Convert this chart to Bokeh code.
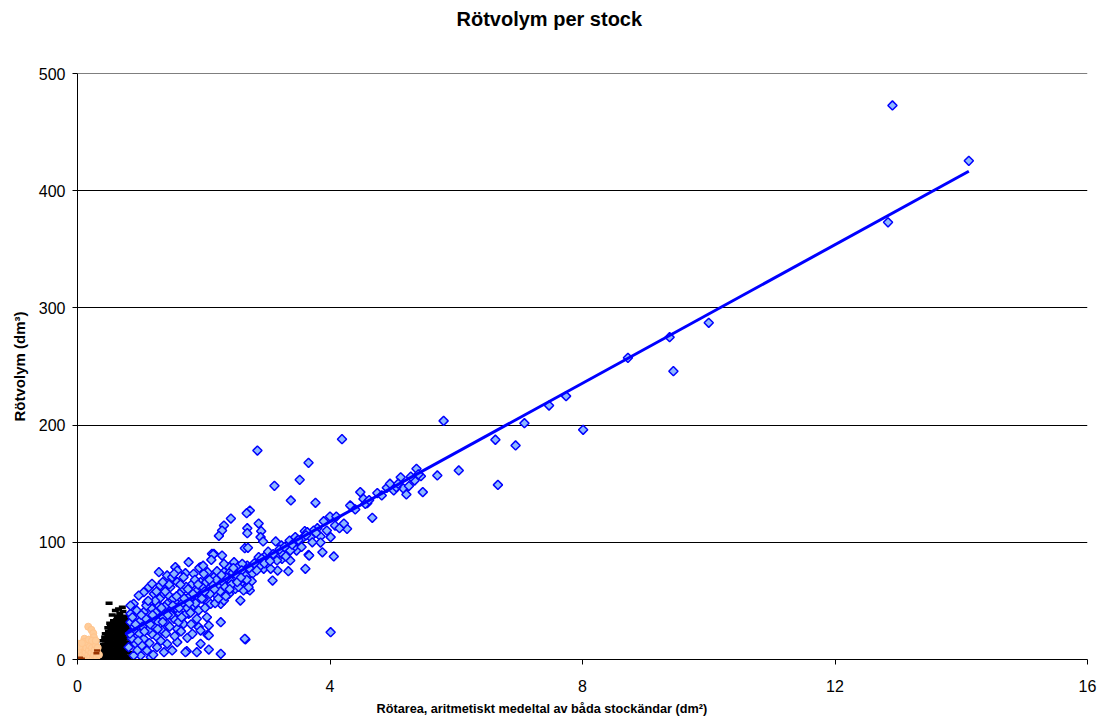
from bokeh.plotting import figure
from bokeh.models import Title, Range1d, FixedTicker, Span
from bokeh.embed import file_html
from bokeh.resources import INLINE

FONT = "Liberation Sans"

# ---- data ----
blue_x = [12.91, 14.12, 12.84, 10.0, 9.38, 9.44, 8.72, 8.01, 7.74, 7.47, 7.08, 6.94, 6.62, 6.66, 6.04, 5.80,
          5.70, 5.47, 5.37, 5.44, 5.34, 5.12, 5.16, 5.21, 5.01, 4.90, 5.05,
          4.19, 4.48, 4.53, 4.59, 4.34, 4.56, 4.32, 4.27, 4.67, 4.01,
          2.85, 3.66, 3.52, 3.12, 3.38, 3.77, 2.43, 2.73, 2.68, 2.87, 2.32, 2.29, 2.24, 2.69, 2.69, 2.91, 2.90,
          2.94, 2.65, 3.14, 3.23, 3.36, 3.45, 3.60, 3.69, 3.80, 3.85, 3.90, 4.00, 4.08, 4.01, 3.85, 3.47, 3.32,
          3.66, 3.88, 4.06, 2.16, 2.29,
          3.09, 3.61, 2.66, 2.27, 2.27, 2.08, 2.06, 1.73, 1.76, 1.95, 2.13, 1.55, 1.13, 1.05, 1.42,
          3.74, 3.64, 3.58, 3.67, 3.48, 3.43, 3.24, 3.37, 3.00, 2.95, 2.90, 2.77, 2.71, 2.69, 2.58, 2.48, 2.40,
          2.32, 2.16,
          3.34, 3.17, 3.06, 2.76, 2.73, 2.98, 2.87, 2.69, 3.24, 3.37, 3.16, 2.63, 2.58,
          2.70, 2.15, 2.12, 2.32, 2.48, 2.54, 2.61, 1.93, 2.06, 2.21, 2.40, 1.58, 1.71, 1.84, 1.50, 1.82, 1.95,
          2.08, 2.24, 2.42, 2.56, 2.66, 2.40, 2.27, 2.11, 2.00, 1.89, 1.31, 1.21, 1.37, 1.47, 1.66, 1.71, 1.55,
          1.42, 1.26, 1.10, 0.89, 0.94, 1.05, 1.18, 1.34, 1.47, 1.60, 1.76, 1.89, 1.92, 1.95, 2.08, 2.65, 1.71,
          1.74, 1.58, 1.58, 1.42, 1.42, 1.26, 1.26, 1.10, 1.00, 1.16, 0.89, 0.81, 0.92, 1.05, 1.18, 1.34, 0.89,
          0.84, 1.00, 1.21, 1.53, 1.68, 1.82, 1.50, 1.37, 1.89, 1.95, 0.84, 0.84, 0.97, 1.18, 1.29, 1.53, 1.58,
          1.68, 2.00, 2.37, 2.50, 2.63, 2.58, 2.32, 2.21, 2.71, 2.08,
          0.86, 0.90, 0.95, 0.98, 1.02, 1.03, 1.08, 1.12, 1.14, 1.20, 1.22, 1.24, 1.28, 1.30, 1.32, 1.36, 1.38,
          1.40, 1.44, 1.46, 1.48, 1.52, 1.54, 1.56, 1.60, 1.62, 1.64, 1.66, 1.70, 1.72, 1.74, 1.78, 1.80, 1.84,
          1.86, 1.88, 1.92, 1.96, 1.98, 2.02, 2.04, 2.10, 2.14, 2.18, 2.20, 2.26, 2.30, 2.34, 2.36, 2.44, 2.46,
          2.52, 2.55, 2.60, 2.68, 2.72, 2.80, 2.84, 2.92, 2.96, 3.02, 3.05, 3.10, 3.20, 3.28, 3.30, 3.40, 3.50,
          3.55, 3.62, 3.72, 3.78, 3.95, 4.10, 4.15, 4.22, 4.40, 4.62, 4.75, 4.82, 4.95, 5.08, 5.25, 5.28, 5.40,
          0.83, 0.87, 0.92, 0.96, 1.01, 1.06, 1.09, 1.15, 1.19, 1.23, 1.27, 1.33, 1.35, 1.39, 1.43, 1.45, 1.51,
          1.57, 1.61, 1.65, 1.69, 1.75, 1.79, 1.83, 1.87, 1.91, 1.97, 2.01, 2.05, 2.09, 2.17, 2.23, 2.28, 2.35,
          2.41, 2.47, 2.53, 2.59, 1.12, 1.25, 1.35, 1.63, 1.77, 1.99]
blue_y = [472.7, 425.5, 373.0, 287.3, 275.0, 246.0, 257.4, 196.0, 224.7, 216.7, 201.6, 182.6, 187.5, 149.0, 161.3, 203.6,
          157.0, 142.8, 162.7, 156.4, 152.7, 155.5, 146.0, 140.8, 144.2, 146.5, 147.0,
          188.0, 142.8, 137.0, 133.4, 130.5, 132.8, 131.4, 111.5, 120.9, 23.3,
          178.3, 167.8, 153.3, 148.2, 135.7, 133.7, 120.3, 127.1, 124.8, 116.0, 114.3, 110.0, 105.5, 112.0, 107.8, 109.5, 104.4,
          100.7, 95.0, 100.7, 97.3, 101.5, 104.4, 109.5, 104.4, 112.0, 105.0, 118.0, 122.0, 114.3, 104.4, 99.8, 93.0, 91.5,
          89.3, 91.5, 87.9, 90.2, 88.7,
          67.4, 77.4, 17.1, 4.8, 31.8, 8.5, 21.0, 7.1, 83.0, 78.8, 90.2, 78.8, 61.7, 57.4, 71.7,
          110.0, 108.6, 104.4, 88.7, 101.5, 95.8, 85.9, 84.5, 88.7, 77.4, 80.2, 73.1, 64.6, 60.3, 70.2, 67.4, 78.8,
          74.5, 70.2,
          75.3, 75.9, 77.4, 66.8, 58.9, 88.7, 87.3, 80.2, 90.2, 93.0, 84.5, 73.1, 64.8,
          95.3, 89.6, 85.0, 81.6, 83.0, 78.8, 81.6, 78.2, 74.5, 75.3, 73.6, 75.9, 73.6, 73.1, 70.2, 64.6, 66.0,
          61.7, 61.7, 67.4, 67.4, 71.7, 56.0, 47.5, 47.5, 51.8, 50.3, 63.1, 56.0, 56.0, 61.7, 58.9, 51.8, 48.9,
          47.5, 47.5, 48.9, 47.5, 41.8, 40.4, 43.3, 40.4, 41.8, 40.4, 39.0, 34.7, 27.6, 24.7, 20.5, 17.7, 6.2,
          18.5, 14.8, 26.2, 30.4, 13.4, 10.5, 19.0, 7.7, 3.4, 2.0, 3.4, 10.5, 13.4, 17.7, 21.9, 24.7, 24.7,
          31.8, 33.3, 33.3, 34.7, 30.4, 21.9, 7.7, 6.2, 6.2, 13.4, 39.0, 46.0, 54.6, 64.6, 74.5, 73.1, 66.0,
          70.2, 73.1, 58.9, 60.3, 58.9, 50.3, 50.3, 54.6, 61.7, 29.0,
          18.0, 28.0, 8.0, 22.0, 12.0, 28.0, 35.0, 25.0, 14.0, 4.0, 28.0, 40.0, 32.0, 52.0, 16.0, 36.0, 45.0,
          22.0, 55.0, 28.0, 38.0, 52.0, 20.0, 44.0, 32.0, 56.0, 24.0, 48.0, 38.0, 62.0, 44.0, 54.0, 30.0, 46.0,
          68.0, 58.0, 42.0, 56.0, 62.0, 44.0, 66.0, 56.0, 64.0, 48.0, 68.0, 58.0, 66.0, 62.0, 70.0, 64.0, 74.0,
          72.0, 62.0, 76.0, 68.0, 78.0, 82.0, 76.0, 86.0, 82.0, 92.0, 84.0, 90.0, 94.0, 96.0, 88.0, 98.0, 102.0,
          96.0, 106.0, 100.0, 108.0, 110.0, 122.0, 112.0, 116.0, 128.0, 136.0, 142.0, 140.0, 150.0, 150.0, 148.0, 156.0, 158.0,
          22.0, 36.0, 30.0, 16.0, 38.0, 24.0, 46.0, 30.0, 38.0, 50.0, 26.0, 44.0, 32.0, 58.0, 38.0, 64.0, 46.0,
          54.0, 44.0, 36.0, 52.0, 60.0, 40.0, 56.0, 48.0, 64.0, 52.0, 58.0, 36.0, 68.0, 60.0, 52.0, 72.0, 54.0,
          60.0, 78.0, 66.0, 70.0, 50.0, 58.0, 66.0, 64.0, 48.0, 80.0]

black_x = [0.36, 0.35, 0.37,
           0.40, 0.41, 0.39, 0.40, 0.41, 0.40,
           0.44, 0.45, 0.43, 0.44, 0.45, 0.44, 0.43, 0.44,
           0.48, 0.49, 0.47, 0.48, 0.49, 0.48, 0.47, 0.48, 0.49, 0.48,
           0.52, 0.53, 0.51, 0.52, 0.53, 0.52, 0.51, 0.52, 0.53, 0.52, 0.51,
           0.57, 0.58, 0.56, 0.57, 0.58, 0.57, 0.56, 0.57, 0.58, 0.57, 0.56, 0.57,
           0.62, 0.63, 0.61, 0.62, 0.63, 0.62, 0.61, 0.62, 0.63, 0.62, 0.61, 0.62, 0.63,
           0.67, 0.68, 0.66, 0.67, 0.68, 0.67, 0.66, 0.67, 0.68, 0.67, 0.66, 0.67, 0.68, 0.67,
           0.72, 0.73, 0.71, 0.72, 0.73, 0.72, 0.71, 0.72, 0.73, 0.72, 0.71, 0.72, 0.73, 0.72,
           0.77, 0.78, 0.76, 0.77, 0.78, 0.77, 0.76, 0.77, 0.78, 0.77, 0.76, 0.77, 0.78,
           0.81, 0.82, 0.81, 0.80, 0.81, 0.82, 0.81, 0.80,
           0.50, 0.60, 0.71, 0.55, 0.65]
black_y = [1.0, 4.0, 7.0,
           0.5, 3.5, 6.5, 9.5, 12.5, 16.0,
           1.0, 4.0, 7.0, 10.0, 13.0, 16.0, 19.0, 22.0,
           0.0, 3.0, 6.0, 9.0, 12.0, 15.0, 18.0, 21.0, 24.0, 27.0,
           1.0, 4.0, 7.0, 10.0, 13.0, 16.0, 19.0, 22.0, 25.0, 28.0, 31.0,
           0.0, 3.0, 6.0, 9.0, 12.0, 15.0, 18.0, 21.0, 24.0, 27.0, 30.0, 33.0,
           1.0, 4.0, 7.0, 10.0, 13.0, 16.0, 19.0, 22.0, 25.0, 28.0, 31.0, 34.0, 37.0,
           0.0, 3.0, 6.0, 9.0, 12.0, 15.0, 18.0, 21.0, 24.0, 27.0, 30.0, 33.0, 36.0, 39.0,
           1.0, 4.0, 7.0, 10.0, 13.0, 16.0, 19.0, 22.0, 25.0, 28.0, 31.0, 34.0, 37.0, 41.0,
           0.0, 3.0, 6.0, 9.0, 12.0, 15.0, 18.0, 21.0, 24.0, 27.0, 30.0, 33.0, 36.0,
           2.0, 6.0, 10.0, 14.0, 18.0, 22.0, 26.0, 30.0,
           48.0, 41.8, 44.6, 38.0, 43.0]

orange_x = [0.17, 0.22, 0.25, 0.11, 0.02, 0.15, 0.26, 0.10, 0.21,
            0.02, 0.04, 0.06, 0.05, 0.08, 0.09, 0.10, 0.11, 0.13, 0.14, 0.15, 0.17, 0.18, 0.19, 0.20,
            0.22, 0.23, 0.24, 0.26, 0.27, 0.28, 0.30, 0.31, 0.32, 0.12, 0.18, 0.23, 0.01, 0.03, 0.07, 0.34, 0.29]
orange_y = [28.0, 25.3, 22.4, 17.7, 13.4, 14.8, 19.0, 14.8, 13.4,
            2.0, 6.0, 10.0, 1.0, 4.0, 8.0, 11.0, 2.0, 6.0, 10.0, 1.0, 4.0, 8.0, 12.0, 2.0,
            6.0, 10.0, 1.0, 4.0, 8.0, 13.0, 2.0, 6.0, 10.0, 15.0, 17.0, 16.0, 8.0, 11.0, 14.0, 4.0, 16.0]

brown_x = [0.31, 0.04, 0.07, 0.30]
brown_y = [7.7, 1.4, 0.6, 5.4]

trend_x = [0.76, 14.12]
trend_y = [21.7, 416.6]

x_ticks = [0, 4, 8, 12, 16]
y_ticks = [0, 100, 200, 300, 400, 500]

p = figure(width=1098, height=720, output_backend="svg", toolbar_location=None,
           x_range=Range1d(0, 16), y_range=Range1d(0, 500),
           min_border_left=77, min_border_right=11, min_border_top=73, min_border_bottom=61,
           background_fill_color="white", border_fill_color="white")
p.outline_line_color = None

p.title.text = "Rötvolym per stock"
p.title.align = "left"
p.title.offset = 379
p.title.text_font = FONT
p.title.text_font_size = "20px"
p.title.text_font_style = "bold"
p.title.text_color = "black"

spacer = Title(text=" ", text_font_size="24px", text_font=FONT)
p.add_layout(spacer, "above")

p.xaxis.ticker = FixedTicker(ticks=x_ticks)
p.yaxis.ticker = FixedTicker(ticks=y_ticks)
for ax in (p.xaxis, p.yaxis):
    ax.major_tick_in = 0
    ax.major_tick_out = 5
    ax.minor_tick_line_color = None
    ax.axis_line_color = "black"
    ax.major_tick_line_color = "black"
    ax.major_label_text_font = FONT
    ax.major_label_text_font_size = "16px"
    ax.major_label_text_color = "black"
p.yaxis.major_label_standoff = 7
p.xaxis.major_label_standoff = 15

p.yaxis.axis_label = "Rötvolym (dm³)"
p.yaxis.axis_label_text_font = FONT
p.yaxis.axis_label_text_font_size = "15px"
p.yaxis.axis_label_text_font_style = "bold"
p.yaxis.axis_label_text_color = "black"
p.yaxis.axis_label_standoff = 8

xlab = Title(text="Rötarea, aritmetiskt medeltal av båda stockändar (dm²)", align="left", offset=299,
             text_font=FONT, text_font_size="12.7px", text_font_style="bold", text_color="black")
p.add_layout(xlab, "below")

p.xgrid.grid_line_color = None
p.ygrid.grid_line_color = "black"
p.ygrid.grid_line_width = 1
p.add_layout(Span(location=500, dimension="width", line_color="black", line_width=1))

p.scatter(black_x, black_y, marker="dash", size=7, line_color="black", line_width=3.5)
p.scatter(orange_x, orange_y, marker="circle", size=7, fill_color="#FFCC99", line_color="#FFC48C", line_width=1)
p.scatter(brown_x, brown_y, marker="dash", size=6, line_color="#993300", line_width=2.5)
p.scatter(blue_x, blue_y, marker="square", angle=0.785398, size=6.5,
          fill_color="#8DB8FF", line_color="#0000FF", line_width=1.5)
p.line(trend_x, trend_y, line_color="#0000FF", line_width=3)

open("out.html", "w").write(file_html(p, INLINE))
